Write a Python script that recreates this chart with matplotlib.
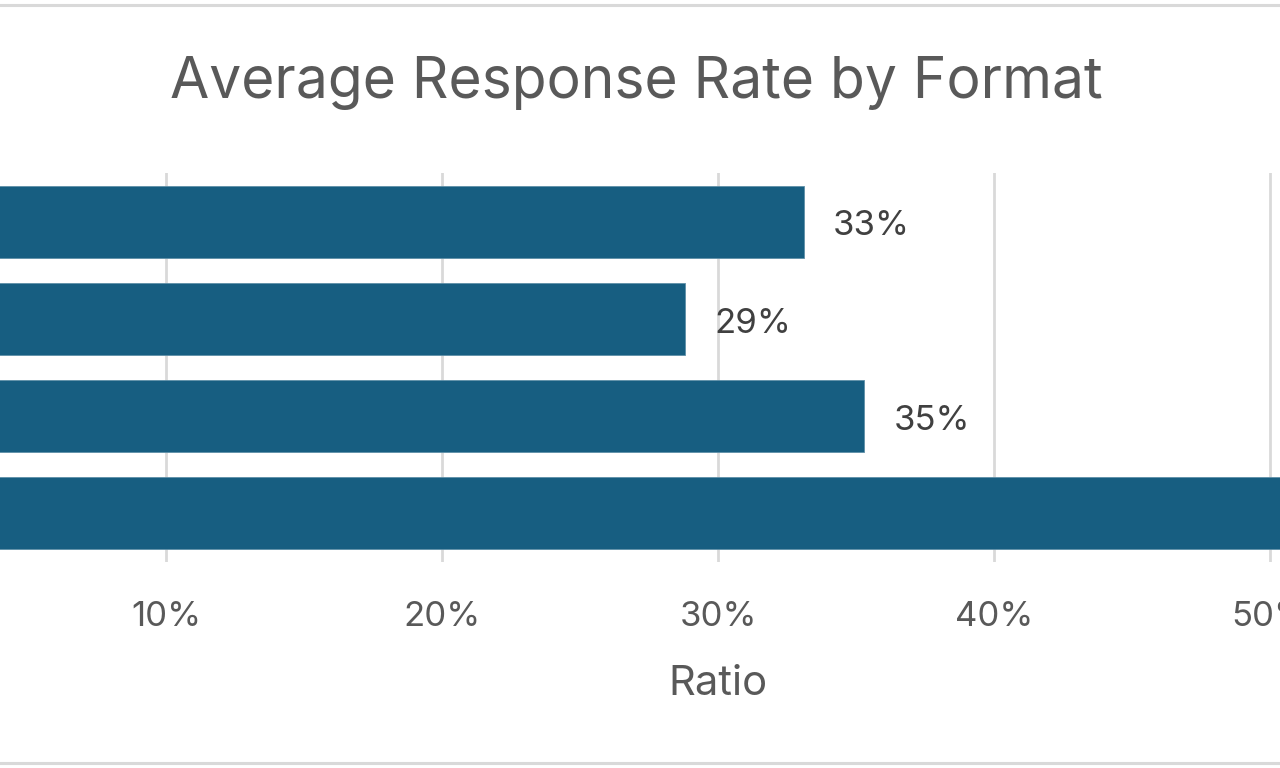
import matplotlib
matplotlib.use("Agg")
import matplotlib.pyplot as plt
from matplotlib.patches import Rectangle
from matplotlib.ticker import FuncFormatter

categories = ["Format A", "Format B", "Format C", "Format D"]
values = [0.331, 0.288, 0.353, 0.52]
xticks = [0.0, 0.1, 0.2, 0.3, 0.4, 0.5, 0.6]

plt.rcParams['font.family'] = ['Inter', 'DejaVu Sans']

W, H = 1280, 768
fig = plt.figure(figsize=(W / 100, H / 100), dpi=100)
fig.patch.set_facecolor("white")

# chart area border (top and bottom visible in crop)
fig.add_artist(Rectangle((-0.1, 5 / H), 1.2, 1 - 10 / H, transform=fig.transFigure,
                         facecolor="none", edgecolor="#D9D9D9", linewidth=2.2))

x0_px = -110
px_per_unit = 2760
xmax = 0.6
left = x0_px / W
width = px_per_unit * xmax / W
top_px, bot_px = 173, 562
ax = fig.add_axes([left, 1 - bot_px / H, width, (bot_px - top_px) / H])

bar_color = "#175E81"
ypos = list(range(len(categories)))
ax.barh(ypos, values, height=0.74, color=bar_color, edgecolor="#5E8FA8", linewidth=0.6, zorder=3)
ax.set_yticks(ypos)
ax.set_yticklabels(categories)
ax.set_ylim(len(categories) - 0.5, -0.5)
ax.set_xlim(0, xmax)
ax.set_xticks(xticks)
ax.xaxis.set_major_formatter(FuncFormatter(lambda v, p: f"{v*100:.0f}%"))
ax.grid(axis="x", color="#D9D9D9", linewidth=2, zorder=0)
ax.tick_params(axis="both", length=0, labelsize=25, colors="#595959", pad=28)
for s in ax.spines.values():
    s.set_visible(False)

for y, v in zip(ypos, values):
    ax.annotate(f"{v*100:.0f}%", xy=(v, y), xytext=(21, -3.5), textcoords="offset points",
                ha="left", va="center", fontsize=25, color="#404040")

ax.set_xlabel("Ratio", fontsize=30, color="#595959", labelpad=23)

fig.text(0.497, 1 - 83 / H, "Average Response Rate by Format", ha="center", va="center",
         fontsize=41, color="#595959")

fig.savefig("out.png", dpi=100)
